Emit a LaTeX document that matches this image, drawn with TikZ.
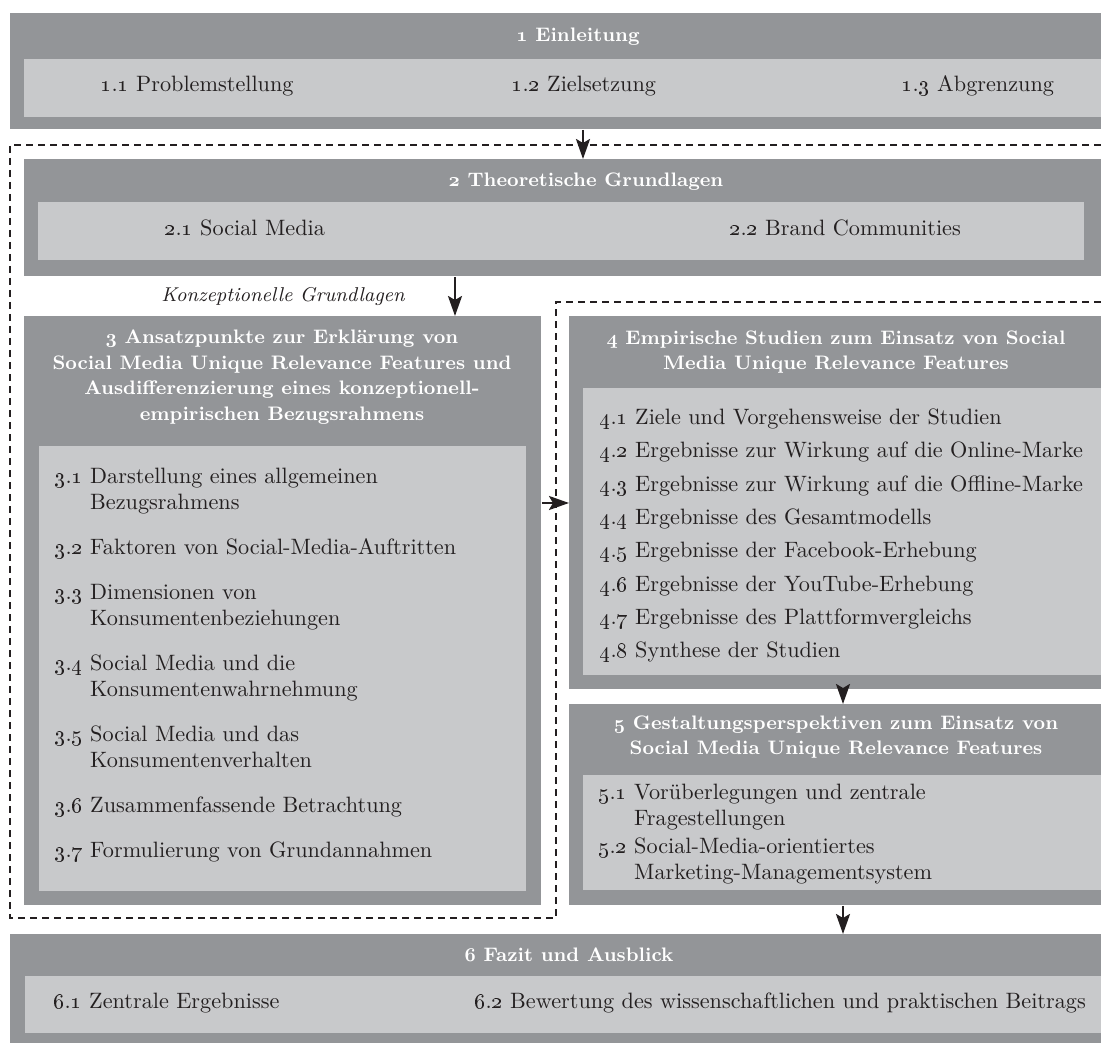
\RequirePackage{fix-cm}
\documentclass[tikz,border=0pt]{standalone}
\usetikzlibrary{arrows.meta}
\definecolor{dgray}{RGB}{147,149,152}
\definecolor{lgray}{RGB}{200,201,203}
\definecolor{ink}{RGB}{35,31,32}
\newcommand{\nm}[2]{\oldstylenums{#1}.\oldstylenums{#2}}
\newcommand{\bnm}[1]{{\usefont{OML}{cmm}{b}{it}#1}}
\newcommand{\twol}[3]{\begin{tabular}[t]{@{}l@{\ }l@{}}#1 & #2\\ & #3\end{tabular}}
\begin{document}
\begin{tikzpicture}[x=0.45pt,y=-0.45pt,
  outer/.style={fill=dgray,draw=none,inner sep=0,anchor=north west},
  inner/.style={fill=lgray,draw=none,inner sep=0,anchor=north west},
  sz/.style 2 args={minimum width=#1*0.45pt,minimum height=#2*0.45pt},
  hd/.style={text=white,font=\fontsize{8.8}{11.5}\selectfont\bfseries,align=center,inner sep=0},
  itm/.style={text=ink,font=\fontsize{10}{11.7}\selectfont,anchor=base west,inner sep=0},
  arr/.style={-{Stealth[length=9pt,width=6.3pt,inset=1.8pt]},line width=1.08pt,draw=ink},
  dsh/.style={dash pattern=on 3.15pt off 2.25pt,line width=0.6pt,draw=ink}]
\useasboundingbox (0,0) rectangle (1101,1043);

% boxes
\node[outer,sz={1091}{116}] (b1) at (10,13) {};
\node[inner,sz={1077}{58}] (b1i) at (24,59) {};
\node[outer,sz={1077}{117}] (b2) at (24,159) {};
\node[inner,sz={1046}{58}] (b2i) at (38,202) {};
\node[outer,sz={517}{589}] (b3) at (24,316) {};
\node[inner,sz={487}{445}] (b3i) at (39,446) {};
\node[outer,sz={532}{373}] (b4) at (569,316) {};
\node[inner,sz={518}{287}] (b4i) at (583,388) {};
\node[outer,sz={532}{201}] (b5) at (569,704) {};
\node[inner,sz={518}{115}] (b5i) at (583,775) {};
\node[outer,sz={1091}{109}] (b6) at (10,934) {};
\node[inner,sz={1076}{57}] (b6i) at (25,976) {};

% dashed frame
\draw[dsh] (1101,145) -- (10,145) -- (10,918) -- (556,918) -- (556,302) -- (1101,302);

% arrows
\coordinate (x12) at (583,0);
\coordinate (x23) at (455,0);
\coordinate (x45) at (843,0);
\coordinate (y34) at (0,503);
\draw[arr] (b1.south -| x12) -- (b2.north -| x12);
\draw[arr] (b2.south -| x23) -- (b3.north -| x23);
\draw[arr] (b3.east |- y34) -- (b4.west |- y34);
\draw[arr] (b4.south -| x45) -- (b5.north -| x45);
\draw[arr] (b5.south -| x45) -- (b6.north -| x45);

% headers
\node[hd] (h1) at (578,37) {\bnm{1} Einleitung};
\node[hd] (h2) at (586,182) {\bnm{2} Theoretische Grundlagen};
\node[hd] (h3) at (282,377) {\bnm{3} Ansatzpunkte zur Erklärung von\\Social Media Unique Relevance Features und\\Ausdifferenzierung eines konzeptionell-\\empirischen Bezugsrahmens};
\node[hd] (h4) at (836,352) {\bnm{4} Empirische Studien zum Einsatz von Social\\Media Unique Relevance Features};
\node[hd] (h5) at (836,737) {\bnm{5} Gestaltungsperspektiven zum Einsatz von\\Social Media Unique Relevance Features};
\node[hd] (h6) at (569,955) {\bnm{6} Fazit und Ausblick};

\node[itm,anchor=base,font=\fontsize{9}{11.7}\selectfont\itshape] (kg) at (283,302) {Konzeptionelle Grundlagen};

% items box 1 and 2
\node[itm] (i11) at (100,92) {\nm11 Problemstellung};
\node[itm] (i12) at (511,92) {\nm12 Zielsetzung};
\node[itm] (i13) at (901,92) {\nm13 Abgrenzung};
\node[itm] (i21) at (164,236) {\nm21 Social Media};
\node[itm] (i22) at (729,236) {\nm22 Brand Communities};

% items box 3
\node[itm] (i31) at (54,484) {\twol{\nm31}{Darstellung eines allgemeinen}{Bezugsrahmens}};
\node[itm] (i32) at (54,555) {\nm32 Faktoren von Social-Media-Auftritten};
\node[itm] (i33) at (54,600) {\twol{\nm33}{Dimensionen von}{Konsumentenbeziehungen}};
\node[itm] (i34) at (54,671) {\twol{\nm34}{Social Media und die}{Konsumentenwahrnehmung}};
\node[itm] (i35) at (54,742) {\twol{\nm35}{Social Media und das}{Konsumentenverhalten}};
\node[itm] (i36) at (54,813) {\nm36 Zusammenfassende Betrachtung};
\node[itm] (i37) at (54,858) {\nm37 Formulierung von Grundannahmen};

% items box 4
\node[itm] (i41) at (599,425) {\nm41 Ziele und Vorgehensweise der Studien};
\node[itm] (i42) at (599,458) {\nm42 Ergebnisse zur Wirkung auf die Online-Marke};
\node[itm] (i43) at (599,492) {\nm43 Ergebnisse zur Wirkung auf die Offline-Marke};
\node[itm] (i44) at (599,525) {\nm44 Ergebnisse des Gesamtmodells};
\node[itm] (i45) at (599,558) {\nm45 Ergebnisse der Facebook-Erhebung};
\node[itm] (i46) at (599,592) {\nm46 Ergebnisse der YouTube-Erhebung};
\node[itm] (i47) at (599,625) {\nm47 Ergebnisse des Plattformvergleichs};
\node[itm] (i48) at (599,658) {\nm48 Synthese der Studien};

% items box 5
\node[itm] (i51) at (598,800) {\twol{\nm51}{Vorüberlegungen und zentrale}{Fragestellungen}};
\node[itm] (i52) at (598,854) {\twol{\nm52}{Social-Media-orientiertes}{Marketing-Managementsystem}};

% items box 6
\node[itm] (i61) at (53,1009) {\nm61 Zentrale Ergebnisse};
\node[itm] (i62) at (474,1009) {\nm62 Bewertung des wissenschaftlichen und praktischen Beitrags};
\end{tikzpicture}
\end{document}
